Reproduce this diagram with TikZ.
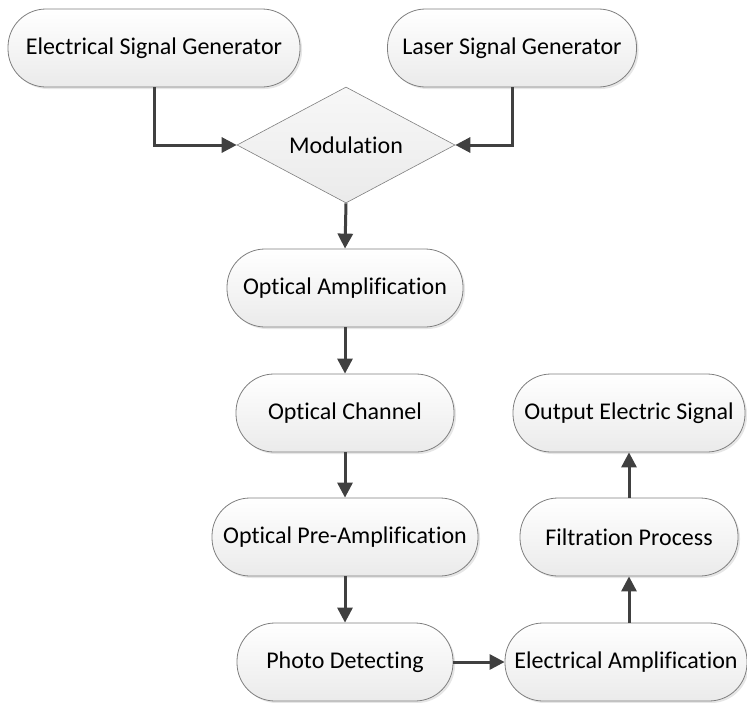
\documentclass[tikz,border=0pt]{standalone}
\usepackage{fontspec}
\setmainfont{Carlito}[Ligatures=NoCommon]
\usetikzlibrary{shapes.geometric,arrows.meta,shadows}
\definecolor{edge}{HTML}{7F7F7F}
\definecolor{conn}{HTML}{404040}
\tikzset{
  term/.style={rectangle, rounded corners=38pt, draw=edge, line width=0.8pt,
    top color=white, bottom color=black!8, minimum height=78pt, inner sep=0pt,
    font=\fontsize{24}{28}\selectfont,
    drop shadow={opacity=0.2, shadow xshift=2pt, shadow yshift=-2pt}},
  decide/.style={diamond, draw=edge, line width=0.6pt, top color=black!3, bottom color=black!8,
    minimum width=218pt, minimum height=116pt, inner sep=0pt, aspect=1.88,
    font=\fontsize{24}{28}\selectfont},
  flow/.style={draw=conn, line width=3pt, -{Triangle[length=15pt,width=15pt]}}
}
\begin{document}
\begin{tikzpicture}[x=1pt,y=-1pt]
\useasboundingbox (0,0) rectangle (747,702);
\node[term, minimum width=292pt] (esg) at (154,48) {Electrical Signal Generator};
\node[term, minimum width=249pt] (lsg) at (512,48) {Laser Signal Generator};
\node[decide] (mod) at (346,145) {Modulation};
\node[term, minimum width=236pt] (oa) at (345,288) {Optical Amplification};
\node[term, minimum width=218pt] (oc) at (345,413) {Optical Channel};
\node[term, minimum width=266pt] (opa) at (345,537) {Optical Pre-Amplification};
\node[term, minimum width=216pt] (pd) at (345,662) {Photo Detecting};
\node[term, minimum width=242pt] (ea) at (626,662) {Electrical Amplification};
\node[term, minimum width=218pt] (fp) at (629,537) {Filtration Process};
\node[term, minimum width=232pt] (oes) at (629,413) {Output Electric Signal};
\draw[flow] (esg.south) |- (mod.west);
\draw[flow] (lsg.south) |- (mod.east);
\draw[flow] (mod.south) -- (oa.north);
\draw[flow] (oa.south) -- (oc.north);
\draw[flow] (oc.south) -- (opa.north);
\draw[flow] (opa.south) -- (pd.north);
\draw[flow] (pd.east) -- (ea.west);
\draw[flow] (fp.south |- ea.north) -- (fp.south);
\draw[flow] (fp.north) -- (oes.south);
\end{tikzpicture}
\end{document}
